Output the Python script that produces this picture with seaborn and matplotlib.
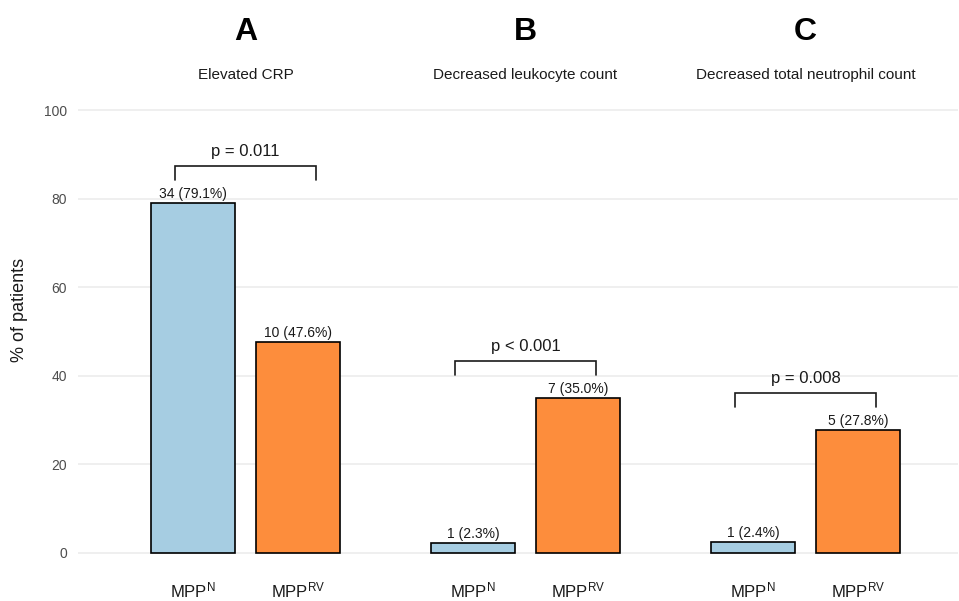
import pandas as pd
import seaborn as sns
import matplotlib.pyplot as plt
from matplotlib.transforms import blended_transform_factory


# chart data
panel_letters = ["A", "B", "C"]
panel_titles = ["Elevated CRP", "Decreased leukocyte count", "Decreased total neutrophil count"]
groups = [r"$\mathregular{MPP^{N}}$", r"$\mathregular{MPP^{RV}}$"]
counts_n = [34, 1, 1]
pct_n = [79.1, 2.3, 2.4]
counts_rv = [10, 7, 5]
pct_rv = [47.6, 35.0, 27.8]
p_labels = ["p = 0.011", "p < 0.001", "p = 0.008"]

colors = ["#a6cde2", "#fd8d3c"]

sns.set_theme(style="white")
plt.rcParams["font.family"] = ["Liberation Sans", "DejaVu Sans"]

W, H = 959, 601
fig = plt.figure(figsize=(W / 100, H / 100), dpi=100)

# panel extents in pixels (left, right, first bar centre)
px_unit = 105.0
bottom_px, top_px = 575, 88
panel_px = [(78, 385, 193), (385, 665, 473), (665, 958, 753)]

for i, (l, r, c0) in enumerate(panel_px):
    ax = fig.add_axes([l / W, 1 - bottom_px / H, (r - l) / W, (bottom_px - top_px) / H])
    df = pd.DataFrame({
        "group": groups,
        "pct": [pct_n[i], pct_rv[i]],
        "count": [counts_n[i], counts_rv[i]],
    })
    sns.barplot(data=df, x="group", y="pct", hue="group", palette=colors, saturation=1,
                width=0.8, edgecolor="black", linewidth=1.2, legend=False, ax=ax)
    ax.set_xlim((l - c0) / px_unit, (r - c0) / px_unit)
    ax.set_ylim(-5, 105)
    ax.set_yticks([0, 20, 40, 60, 80, 100])
    ax.yaxis.grid(True, color="#ebebeb", linewidth=1.1)
    ax.set_axisbelow(True)
    for s in ax.spines.values():
        s.set_visible(False)
    ax.tick_params(axis="both", length=0)
    ax.tick_params(axis="y", labelsize=10, labelcolor="#4d4d4d", pad=8)
    ax.tick_params(axis="x", labelsize=12, labelcolor="#1a1a1a", pad=4)
    if i > 0:
        ax.set_yticklabels([])
    ax.set_xlabel("")
    ax.set_ylabel("")

    # value labels on bars
    for j, (cnt, p) in enumerate(zip(df["count"], df["pct"])):
        ax.text(j, p + 0.4, f"{cnt} ({p:.1f}%)", ha="center", va="bottom",
                fontsize=10, color="#1a1a1a")

    # significance bracket
    top = max(df["pct"])
    y_leg, y_top = top + 5.2, top + 8.3
    ax.plot([-0.17, -0.17, 1.17, 1.17], [y_leg, y_top, y_top, y_leg],
            color="#1a1a1a", linewidth=1.2, solid_joinstyle="miter", clip_on=False)
    ax.text(0.5, top + 11.5, p_labels[i], ha="center", va="center",
            fontsize=12, color="#1a1a1a")

    # panel headings
    tr = blended_transform_factory(ax.transData, fig.transFigure)
    ax.text(0.5, 1 - 32 / H, panel_letters[i], transform=tr, ha="center",
            va="center", fontsize=23, fontweight="bold", color="black")
    ax.text(0.5, 1 - 75 / H, panel_titles[i], transform=tr, ha="center",
            va="center", fontsize=11, color="#1a1a1a")

fig.text(20 / W, 1 - 310 / H, "% of patients", rotation=90, ha="center",
         va="center", fontsize=13, color="#1a1a1a")

fig.savefig("out.png", dpi=100)
